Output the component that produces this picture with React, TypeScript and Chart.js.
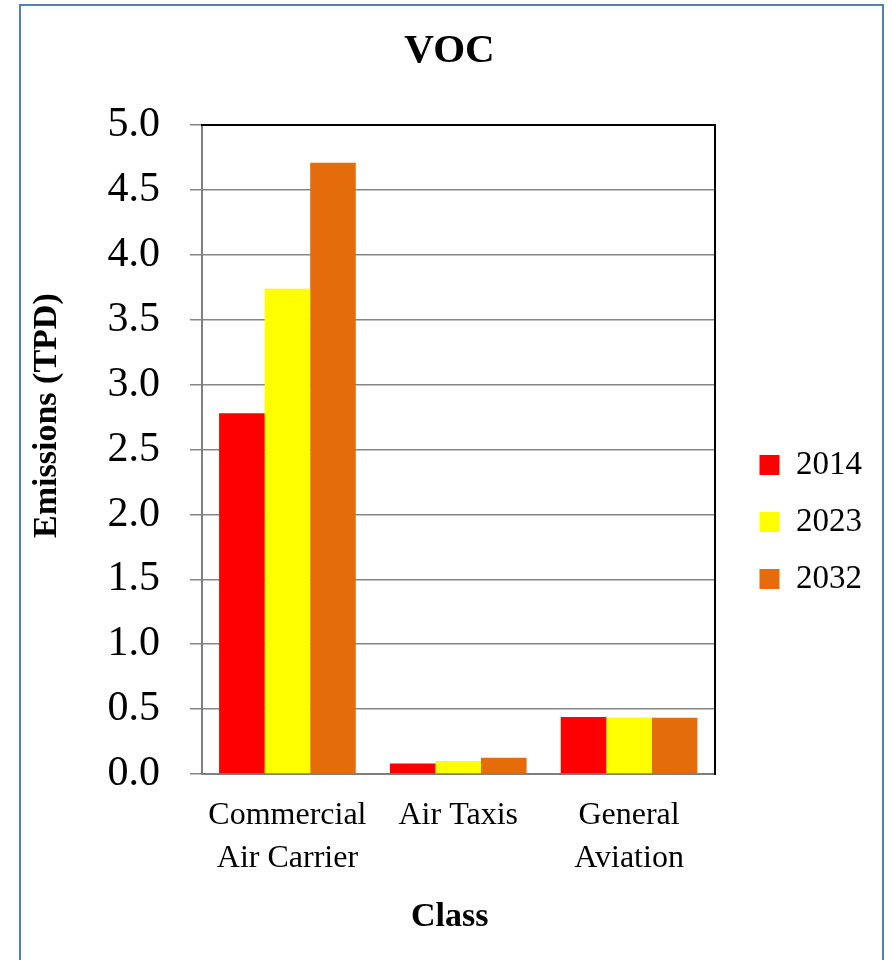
import React, { useEffect, useRef } from "react";
import { Chart, registerables } from "chart.js";

Chart.register(...registerables);

const categories: string[][] = [["Commercial", "Air Carrier"], ["Air Taxis"], ["General", "Aviation"]];
const seriesNames = ["2014", "2023", "2032"];
const values2014 = [2.78, 0.08, 0.44];
const values2023 = [3.74, 0.1, 0.435];
const values2032 = [4.71, 0.125, 0.433];
const seriesColors = ["#FF0000", "#FFFF00", "#E46C0A"];
const yTickValues = [0, 0.5, 1.0, 1.5, 2.0, 2.5, 3.0, 3.5, 4.0, 4.5, 5.0];
const chartTitle = "VOC";
const yAxisTitle = "Emissions (TPD)";
const xAxisTitle = "Class";

const FONT = "'Liberation Serif', 'Times New Roman', serif";

export default function App() {
  const ref = useRef<HTMLCanvasElement | null>(null);

  useEffect(() => {
    if (!ref.current) return;
    const seriesValues = [values2014, values2023, values2032];
    const chart = new Chart(ref.current, {
      type: "bar",
      data: {
        labels: categories,
        datasets: seriesNames.map((name, i) => ({
          label: name,
          data: seriesValues[i],
          backgroundColor: seriesColors[i],
          borderWidth: 0,
          categoryPercentage: 0.8,
          barPercentage: 1.0,
        })),
      },
      options: {
        responsive: false,
        animation: false,
        layout: { padding: { top: 17, left: 27, right: 20, bottom: 12 } },
        plugins: {
          title: {
            display: true,
            text: chartTitle,
            color: "#000",
            font: { family: FONT, size: 41, weight: "bold", lineHeight: 1.2 },
            padding: { top: 10, bottom: 47 },
          },
          legend: {
            position: "right",
            fullSize: false,
            align: "center",
            title: {
              display: true,
              text: " ",
              font: { family: FONT, size: 10, lineHeight: 1.2 },
              padding: { top: 60, bottom: 73 },
            },
            labels: {
              boxWidth: 20,
              boxHeight: 20,
              padding: 24,
              color: "#000",
              font: { family: FONT, size: 33, lineHeight: 1.2 },
            },
          },
          tooltip: { enabled: false },
        },
        scales: {
          x: {
            type: "category",
            position: "bottom",
            grid: { display: false, drawTicks: false },
            border: { display: true, color: "#7f7f7f", width: 2 },
            ticks: {
              color: "#000",
              padding: 20,
              maxRotation: 0,
              autoSkip: false,
              font: { family: FONT, size: 32, lineHeight: 1.344 },
            },
            title: {
              display: true,
              text: xAxisTitle + "\u00A0\u00A0",
              color: "#000",
              font: { family: FONT, size: 34, weight: "bold", lineHeight: 1.2 },
              padding: { top: 0, bottom: 10 },
            },
            afterFit: (s: any) => {
              s.height = 174;
            },
          },
          y: {
            type: "linear",
            position: "left",
            min: 0,
            max: 5,
            afterBuildTicks: (s: any) => {
              s.ticks = yTickValues.map((v) => ({ value: v }));
            },
            ticks: {
              color: "#000",
              padding: 30,
              font: { family: FONT, size: 42 },
              callback: (v: any) => Number(v).toFixed(1),
            },
            grid: { color: "#868686", lineWidth: 1.5, tickLength: 12, drawTicks: true },
            border: { color: "#7f7f7f", width: 2 },
            title: {
              display: true,
              text: "\u00A0".repeat(8) + yAxisTitle,
              color: "#000",
              font: { family: FONT, size: 34, weight: "bold", lineHeight: 1.2 },
              padding: { top: 0, bottom: 0 },
            },
            afterFit: (s: any) => {
              s.width = 175;
            },
          },
          x2: {
            type: "category",
            position: "top",
            grid: { display: false, drawTicks: false },
            ticks: { display: false },
            border: { display: true, color: "#000", width: 2 },
            afterFit: (s: any) => {
              s.height = 2;
            },
          },
          y2: {
            type: "linear",
            position: "right",
            min: 0,
            max: 5,
            grid: { display: false, drawTicks: false },
            ticks: { display: false },
            border: { display: true, color: "#000", width: 2 },
            afterFit: (s: any) => {
              s.width = 21;
            },
          },
        },
      } as any,
    });
    return () => chart.destroy();
  }, []);

  return (
    <div
      style={{
        position: "fixed",
        left: 0,
        top: 0,
        width: 892,
        height: 960,
        overflow: "hidden",
        background: "#fff",
      }}
    >
      <div
        style={{
          position: "absolute",
          left: 19,
          top: 4,
          width: 865,
          height: 1100,
          border: "2px solid #4F81BD",
          boxSizing: "border-box",
        }}
      />
      <canvas
        ref={ref}
        width={892}
        height={960}
        style={{ position: "absolute", left: 0, top: 0, width: 892, height: 960 }}
      />
    </div>
  );
}
